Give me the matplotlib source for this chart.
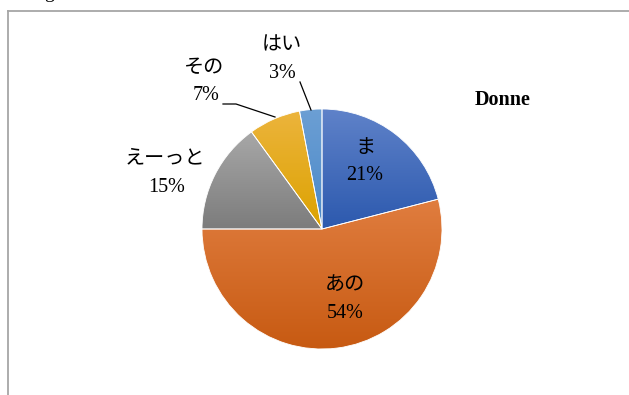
import numpy as np
import matplotlib.pyplot as plt
from matplotlib.colors import LinearSegmentedColormap

plt.rcParams['font.family'] = ['Liberation Serif', 'Noto Sans CJK JP']

labels = ['ま', 'あの', 'えーっと', 'その', 'はい']
values = [21, 54, 15, 7, 3]
title = 'Donne'

# gradient (top, bottom) per slice
grads = [('#5f82c9', '#2c59ae'),
         ('#e07d3f', '#c75a12'),
         ('#a8a8a8', '#7c7c7c'),
         ('#ecb43c', '#dca200'),
         ('#6c9fd4', '#4a88c8')]

W, H = 629, 395
fig = plt.figure(figsize=(W / 100, H / 100), dpi=100)
ax = fig.add_axes([0, 0, 1, 1])

cx, cy, r = 322, H - 229, 120
wedges, _ = ax.pie(values, startangle=90, counterclock=False,
                   center=(cx, cy), radius=r,
                   wedgeprops=dict(edgecolor='white', linewidth=0.6))

grad = np.linspace(0, 1, 256).reshape(-1, 1)
for w, (c_top, c_bot) in zip(wedges, grads):
    w.set_facecolor('none')
    w.set_zorder(3)
    bb = w.get_path().get_extents()
    cmap = LinearSegmentedColormap.from_list('g', [c_top, c_bot])
    im = ax.imshow(grad, cmap=cmap, aspect='auto', origin='upper',
                   extent=(bb.x0, bb.x1, bb.y0, bb.y1), zorder=2)
    im.set_clip_path(w)

# labels: (x, y) pixel centres of name line and percent line
pos = [((365, 149), (365, 176)),
       ((345, 285), (345, 313)),
       ((165, 159), (167, 187)),
       ((204, 68), (206, 96)),
       ((282, 46), (282, 73))]
for lab, v, (p1, p2) in zip(labels, values, pos):
    ax.text(p1[0], H - p1[1], lab, ha='center', va='center', fontsize=14.5, zorder=5)
    ax.text(p2[0], H - p2[1], f'{v}%', ha='center', va='center', fontsize=14.5, zorder=5)

# leader lines
ax.plot([223, 236, 275], [H - 104, H - 104, H - 117], color='black', lw=0.9, zorder=4)
ax.plot([300, 311], [H - 82, H - 110], color='black', lw=0.9, zorder=4)

ax.text(503, H - 100, title, ha='center', va='center', fontsize=14.5,
        fontweight='bold', zorder=5)

# chart frame (top of a cut-off heading shows above it)
ax.plot([7.5, W], [H - 10.5, H - 10.5], color='#a6a6a6', lw=1.3)
ax.plot([7.5, 7.5], [H - 10.5, 0], color='#a6a6a6', lw=1.3)
ax.text(49, H + 7, 'g', ha='center', va='center', fontsize=14)

ax.set_xlim(0, W)
ax.set_ylim(0, H)
ax.set_aspect('auto')
ax.axis('off')

fig.savefig('out.png', dpi=100)
